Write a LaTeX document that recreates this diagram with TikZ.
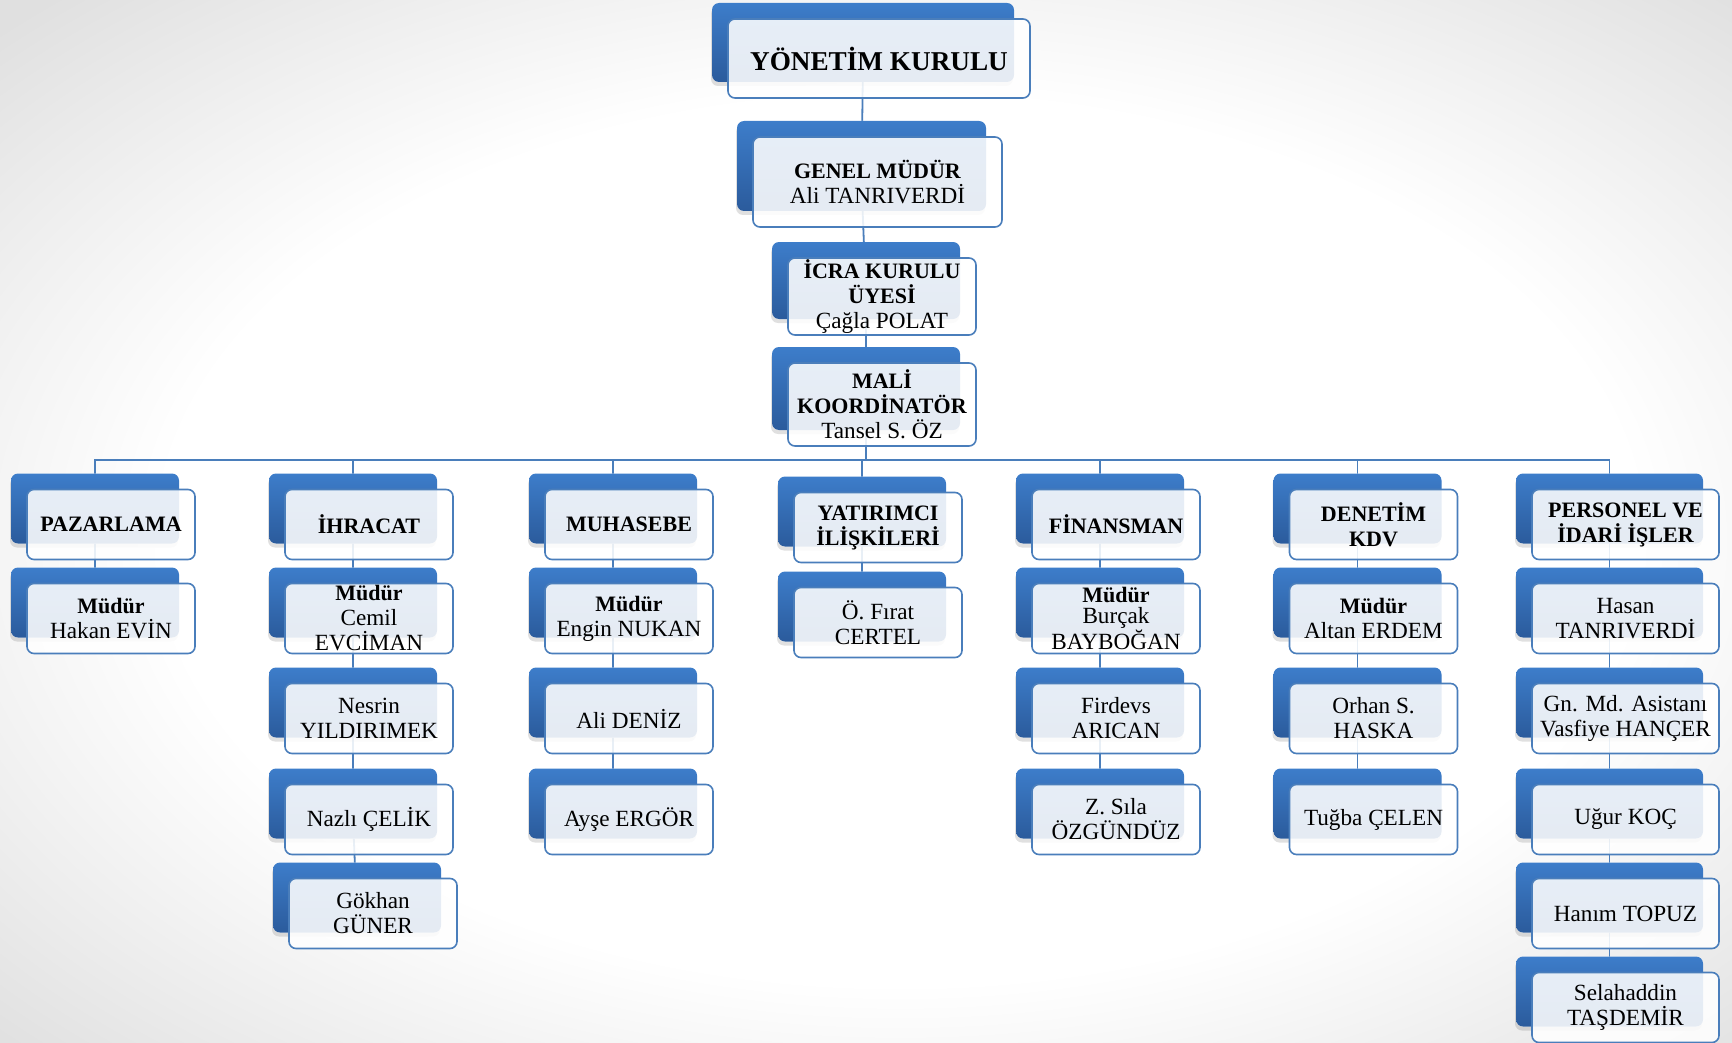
\documentclass[tikz,border=0pt]{standalone}
\usepackage{fontspec}
\setmainfont{Liberation Serif}[BoldFeatures={Scale=0.948}]
\usetikzlibrary{shadows}
\definecolor{chartblue}{HTML}{4A7EBB}
\definecolor{boxtop}{HTML}{3D7DCA}
\definecolor{boxbottom}{HTML}{2B5B9C}
\pgfdeclareradialshading{vignette}{\pgfpoint{0bp}{0bp}}{color(0bp)=(white); color(15bp)=(white); color(25bp)=(black!12); color(50bp)=(black!12)}
\pgfdeclarelayer{back}
\pgfdeclarelayer{links}
\pgfsetlayers{back,links,main}
\tikzset{
orgbox/.style={draw=chartblue, line width=1.6pt, rounded corners=7pt, fill=white, fill opacity=0.88, text opacity=1, align=center, inner sep=0pt, minimum width=168pt, minimum height=70pt, font=\fontsize{23.2}{25}\selectfont,
  general shadow={shadow xshift=-17pt, shadow yshift=12pt, draw=none, fill=black, fill opacity=0.12}, % soft drop under the blue block
  copy shadow={shadow xshift=-16pt, shadow yshift=16pt, draw=none, fill opacity=1, top color=boxtop, bottom color=boxbottom}}, % blue block behind the text box
headtext/.style={font=\fontsize{23.2}{25}\selectfont\bfseries},
widebox/.style={minimum width=188pt},
orgline/.style={draw=chartblue, line width=1.8pt},
}

\begin{document}
\begin{tikzpicture}[x=1pt, y=-1pt]
  \useasboundingbox (0,0) rectangle (1732,1043);
  \begin{pgfonlayer}{back}
    \clip (0,0) rectangle (1732,1043);
    \shade[shading=vignette] (-330,-200) rectangle (2130,1280);
  \end{pgfonlayer}

  % Top of the chart
  \node[orgbox, minimum width=302pt, minimum height=79pt, font=\fontsize{28.7}{32}\selectfont\bfseries] (yk) at (879,58.5) {YÖNETİM KURULU};
  \node[orgbox, minimum width=249pt, minimum height=90pt] (gm) at (877.5,182) {\textbf{GENEL MÜDÜR}\\Ali TANRIVERDİ};
  \node[orgbox, widebox, minimum height=77pt] (icra) at (882,296.5) {\textbf{İCRA KURULU}\\\textbf{ÜYESİ}\\Çağla POLAT};
  \node[orgbox, widebox, minimum height=83pt] (mali) at (882,404.5) {\textbf{MALİ}\\\textbf{KOORDİNATÖR}\\Tansel S. ÖZ};

  % Departments
  \node[orgbox, headtext] (paz) at (111,524.5) {PAZARLAMA};
  \node[orgbox, headtext] (ihr) at (369,524.5) {İHRACAT};
  \node[orgbox, headtext] (muh) at (629,524.5) {MUHASEBE};
  \node[orgbox, headtext] (yat) at (878,527.5) {YATIRIMCI\\İLİŞKİLERİ};
  \node[orgbox, headtext] (fin) at (1116,524.5) {FİNANSMAN};
  \node[orgbox, headtext] (den) at (1373.5,524.5) {DENETİM\\KDV};
  \node[orgbox, headtext, minimum width=187pt] (per) at (1625.5,524.5) {PERSONEL VE\\İDARİ İŞLER};

  % Staff
  \node[orgbox] (paz1) at (111,618.5) {\textbf{Müdür}\\Hakan EVİN};
  \node[orgbox] (ihr1) at (369,618.5) {\textbf{Müdür}\\Cemil\\EVCİMAN};
  \node[orgbox] (ihr2) at (369,718.5) {Nesrin\\YILDIRIMEK};
  \node[orgbox] (ihr3) at (369,819.5) {Nazlı ÇELİK};
  \node[orgbox] (ihr4) at (373,913.5) {Gökhan\\GÜNER};
  \node[orgbox] (muh1) at (629,618.5) {\textbf{Müdür}\\Engin NUKAN};
  \node[orgbox] (muh2) at (629,718.5) {Ali DENİZ};
  \node[orgbox] (muh3) at (629,819.5) {Ayşe ERGÖR};
  \node[orgbox] (yat1) at (878,622.5) {Ö. Fırat\\CERTEL};
  \node[orgbox, font=\fontsize{23.2}{21}\selectfont] (fin1) at (1116,618.5) {\textbf{Müdür}\\Burçak\\BAYBOĞAN};
  \node[orgbox] (fin2) at (1116,718.5) {Firdevs\\ARICAN};
  \node[orgbox] (fin3) at (1116,819.5) {Z. Sıla\\ÖZGÜNDÜZ};
  \node[orgbox] (den1) at (1373.5,618.5) {\textbf{Müdür}\\Altan ERDEM};
  \node[orgbox] (den2) at (1373.5,718.5) {Orhan S.\\HASKA};
  \node[orgbox] (den3) at (1373.5,819.5) {Tuğba ÇELEN};
  \node[orgbox, minimum width=187pt] (per1) at (1625.5,618.5) {Hasan\\TANRIVERDİ};
  \node[orgbox, minimum width=187pt] (per2) at (1625.5,718.5) {Gn. Md. Asistanı\\Vasfiye HANÇER};
  \node[orgbox, minimum width=187pt] (per3) at (1625.5,819.5) {Uğur KOÇ};
  \node[orgbox, minimum width=187pt] (per4) at (1625.5,913.5) {Hanım TOPUZ};
  \node[orgbox, minimum width=187pt] (per5) at (1625.5,1007.5) {Selahaddin\\TAŞDEMİR};

  % Connectors
  \begin{pgfonlayer}{links}
    \coordinate (bus) at (866,460);
    \draw[orgline] ([xshift=-16pt]yk.center) -- ([xshift=-16pt]gm.center) -- ([xshift=-16pt]icra.center) -- ([xshift=-16pt]mali.center) -- (bus);
    \foreach \d in {paz,ihr,muh,yat,fin,den,per}
      \draw[orgline] (bus) -| ([xshift=-16pt]\d.center);
    \foreach \a/\b in {paz/paz1, ihr/ihr1, ihr1/ihr2, ihr2/ihr3, ihr3/ihr4, muh/muh1, muh1/muh2, muh2/muh3, yat/yat1, fin/fin1, fin1/fin2, fin2/fin3, den/den1, den1/den2, den2/den3, per/per1, per1/per2, per2/per3, per3/per4, per4/per5}
      \draw[orgline] ([xshift=-16pt]\a.center) -- ([xshift=-16pt]\b.center);
  \end{pgfonlayer}
\end{tikzpicture}
\end{document}
